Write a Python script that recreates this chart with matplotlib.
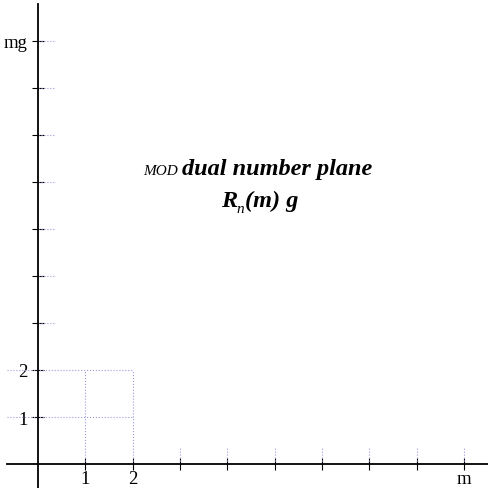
import matplotlib
matplotlib.use("Agg")
import matplotlib.pyplot as plt

plt.rcParams['font.family'] = ['Liberation Serif', 'DejaVu Serif']

# tick positions and labels
x_ticks = [1, 2, 3, 4, 5, 6, 7, 8, 9]
x_labels = ['1', '2', '', '', '', '', '', '', 'm']
y_ticks = [1, 2, 3, 4, 5, 6, 7, 8, 9]
y_labels = ['1', '2', '', '', '', '', '', '', 'mg']
grid_ticks = [1, 2]   # the small unit grid

W = 489
fig = plt.figure(figsize=(4.89, 4.89), dpi=100)
ax = fig.add_axes([0, 0, 1, 1])
ax.set_xlim(-0.80, 9.53)
ax.set_ylim(-0.51, 9.89)

for side in ['top', 'right']:
    ax.spines[side].set_visible(False)
ax.spines['left'].set_position(('data', 0))
ax.spines['bottom'].set_position(('data', 0))
ax.spines['left'].set_linewidth(1.3)
ax.spines['bottom'].set_linewidth(1.3)
ax.spines['bottom'].set_bounds(-0.66, 9.53)
ax.spines['left'].set_bounds(-0.51, 9.79)

ax.set_xticks(x_ticks)
ax.set_xticklabels(x_labels)
ax.set_yticks(y_ticks)
ax.set_yticklabels(y_labels)
ax.tick_params(direction='inout', length=9, width=0.8, labelsize=13.5)
ax.tick_params(axis='x', pad=0)
ax.tick_params(axis='y', pad=3)

grid_kw = dict(color='#9a9ad8', linestyle=':', linewidth=0.8)
# short dotted stubs at each tick
for t in x_ticks:
    top = 2 if t in grid_ticks else 0.35
    ax.plot([t, t], [0, top], **grid_kw)
for t in y_ticks:
    right = 2 if t in grid_ticks else 0.35
    left = -0.65 if t in grid_ticks else 0
    ax.plot([left, right], [t, t], **grid_kw)

# title block
fig.text(143 / W, 1 - 175 / W, 'MOD', style='italic', fontsize=11, va='baseline')
fig.text(182 / W, 1 - 175 / W, 'dual number plane', style='italic',
         weight='bold', fontsize=17.5, va='baseline')
fig.text(221 / W, 1 - 207 / W, 'R', style='italic', weight='bold',
         fontsize=17.5, va='baseline')
fig.text(236 / W, 1 - 213 / W, 'n', style='italic', fontsize=11, va='baseline')
fig.text(245 / W, 1 - 207 / W, '(m) g', style='italic', weight='bold',
         fontsize=17.5, va='baseline')

fig.savefig('out.png', dpi=100)
